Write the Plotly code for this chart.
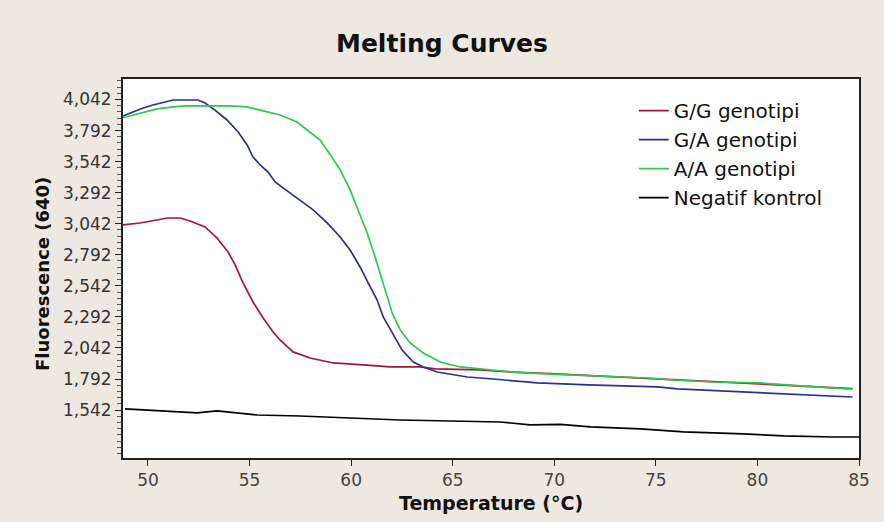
import plotly.graph_objects as go

# ---- data ----
gg_temp = [48.77, 49.61, 50.44, 50.94, 51.58, 52.07, 52.81, 53.40, 53.94, 54.29, 54.68, 55.17,
           55.67, 56.16, 56.50, 57.14, 57.98, 59.12, 60.59, 61.92, 63.40, 64.14, 66.36, 67.98,
           69.80, 72.27, 74.58, 75.86, 77.83, 80.15, 82.12, 84.68]
gg_fluo = [3032, 3048, 3072, 3088, 3088, 3064, 3016, 2927, 2814, 2710, 2565, 2412,
           2283, 2170, 2106, 2010, 1961, 1921, 1905, 1889, 1889, 1873, 1865, 1848,
           1836, 1816, 1800, 1788, 1772, 1756, 1740, 1715]

ga_temp = [48.77, 49.26, 49.76, 50.25, 50.84, 51.23, 52.46, 52.81, 53.30, 53.89, 54.44, 54.88,
           55.17, 55.52, 55.91, 56.26, 56.65, 57.14, 57.64, 58.13, 58.82, 59.46, 59.95, 60.44,
           60.84, 61.28, 61.58, 62.02, 62.51, 63.06, 63.55, 64.24, 65.03, 65.72, 67.00, 69.17,
           71.68, 75.08, 76.06, 78.18, 80.64, 82.61, 84.68]
ga_fluo = [3910, 3941, 3974, 3998, 4022, 4038, 4038, 4014, 3957, 3877, 3780, 3676,
           3579, 3515, 3458, 3378, 3330, 3273, 3209, 3153, 3048, 2935, 2830, 2694,
           2565, 2428, 2291, 2162, 2025, 1929, 1889, 1848, 1824, 1808, 1792, 1760,
           1744, 1728, 1712, 1695, 1679, 1663, 1647]

aa_temp = [48.77, 49.61, 50.44, 51.23, 51.92, 54.04, 54.88, 55.67, 56.50, 57.34, 57.98, 58.47,
           58.97, 59.46, 59.95, 60.35, 60.79, 61.18, 61.53, 61.78, 62.02, 62.42, 62.91, 63.55,
           64.39, 65.37, 66.36, 67.98, 69.80, 72.27, 74.58, 75.86, 77.83, 80.15, 82.12, 84.68]
aa_fluo = [3895, 3933, 3966, 3982, 3990, 3990, 3982, 3950, 3917, 3861, 3780, 3716,
           3600, 3475, 3314, 3153, 2967, 2774, 2589, 2452, 2323, 2187, 2082, 2002,
           1929, 1889, 1873, 1848, 1832, 1816, 1800, 1784, 1768, 1760, 1736, 1711]

neg_temp = [48.87, 52.42, 53.40, 55.37, 57.49, 62.41, 67.34, 68.82, 70.30, 71.78, 74.24, 76.36,
            79.31, 81.28, 83.74, 85.0]
neg_fluo = [1551, 1519, 1535, 1502, 1494, 1462, 1446, 1422, 1426, 1406, 1390, 1366,
            1350, 1334, 1325, 1325]

series_names = ["G/G genotipi", "G/A genotipi", "A/A genotipi", "Negatif kontrol"]
series_colors = ["#A0183A", "#2E2E8C", "#2DC84E", "#000000"]

x_ticks = [50, 55, 60, 65, 70, 75, 80, 85]
y_ticks = [1542, 1792, 2042, 2292, 2542, 2792, 3042, 3292, 3542, 3792, 4042]
y_ticktext = [f"{v:,}" for v in y_ticks]

# ---- figure ----
fig = go.Figure()
data = [(gg_temp, gg_fluo), (ga_temp, ga_fluo), (aa_temp, aa_fluo), (neg_temp, neg_fluo)]
for i, ((xs, ys), name, col) in enumerate(zip(data, series_names, series_colors)):
    fig.add_trace(go.Scatter(x=xs, y=ys, mode="lines", name=name,
                             line=dict(color=col, width=1.7),
                             legendgroup=f"g{i}"))

bg = "#EDE8E1"
fig.update_layout(
    width=884, height=522,
    margin=dict(l=123, r=25, t=79, b=64),
    paper_bgcolor=bg, plot_bgcolor="white",
    title=dict(text="<b>Melting Curves</b>", x=0.5, xref="container", xanchor="center",
               y=1 - 43 / 522, yref="container", yanchor="middle",
               font=dict(family="DejaVu Sans", size=25, color="#111")),
    showlegend=True,
    legend=dict(x=0.694, xanchor="left", y=0.968, yanchor="top",
                bgcolor="rgba(255,255,255,0)", borderwidth=0,
                font=dict(family="DejaVu Sans", size=20, color="#111"),
                tracegroupgap=0, itemwidth=30),
    xaxis=dict(range=[48.77, 85.0], tickvals=x_ticks, ticks="outside", ticklen=6,
               tickcolor="#222", showline=True, linecolor="#222", linewidth=2, mirror=True,
               showgrid=False, zeroline=False,
               tickfont=dict(family="DejaVu Sans", size=17, color="#444")),
    yaxis=dict(range=[1156, 4207], tickvals=y_ticks, ticktext=y_ticktext, ticks="outside",
               ticklen=6, tickcolor="#222", showline=True, linecolor="#222", linewidth=2,
               mirror=True, showgrid=False, zeroline=False,
               tickfont=dict(family="DejaVu Sans", size=17, color="#333"),
               minor=dict(tickmode="linear", tick0=1542, dtick=50, ticks="outside",
                          ticklen=4, tickcolor="#555")),
    annotations=[
        dict(text="<b>Temperature (°C)</b>", xref="paper", yref="paper", x=0.5, y=-0.12,
             xanchor="center", yanchor="middle", showarrow=False,
             font=dict(family="DejaVu Sans", size=19, color="#111")),
        dict(text="<b>Fluorescence (640)</b>", xref="paper", yref="paper",
             x=(42 - 123) / 736, y=(458 - 274) / 379, textangle=-90,
             xanchor="center", yanchor="middle", showarrow=False,
             font=dict(family="DejaVu Sans", size=18, color="#111")),
    ],
)

fig.write_html("out.html", config={"displayModeBar": False},
               post_script="document.body.style.margin='0';document.body.style.background='#EDE8E1';")
